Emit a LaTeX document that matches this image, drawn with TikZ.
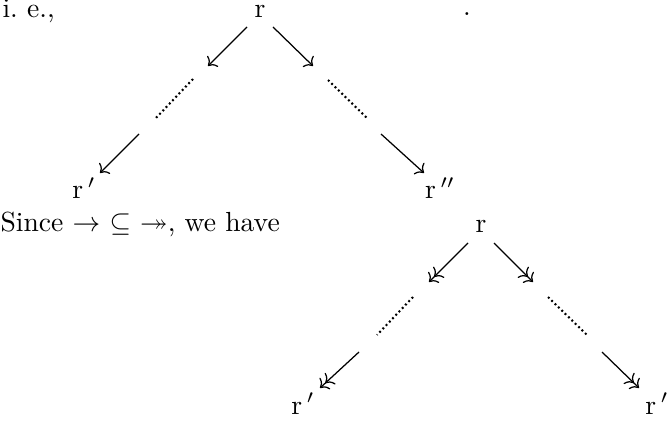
\documentclass[tikz,border=0pt]{standalone}
\usepackage{amssymb}
\usetikzlibrary{arrows.meta}
\begin{document}
\begin{tikzpicture}[x=0.362pt,y=-0.362pt,
  lbl/.style={inner sep=0pt,anchor=base},
  arr/.style={-{To[length=2.6pt,width=5.6pt]},line width=0.45pt},
  darr/.style={-{To[length=2.6pt,width=5.6pt]To[length=2.6pt,width=5.6pt]},line width=0.45pt},
  dots/.style={line width=0.75pt,dash pattern=on 0.7pt off 1.0pt}]
\useasboundingbox (0,0) rectangle (669,422);
% text
\node[lbl,anchor=base west] (ie) at (2,18) {i.\ e.,};
\node[lbl] (dot) at (467,16) {.};
\node[lbl,anchor=base west] (since) at (0,232) {Since $\rightarrow$ $\subseteq$ $\twoheadrightarrow$, we have};
% tree 1
\node[lbl] (r1) at (260,18) {r};
\node[lbl] (r1l) at (84,199) {r\,$'$};
\node[lbl] (r1r) at (440,199) {r\,$''$};
\coordinate (a1s) at (247,27); \coordinate (a1e) at (208,66);
\coordinate (d1s) at (193,79); \coordinate (d1e) at (155,119);
\coordinate (a2s) at (139,134); \coordinate (a2e) at (100,173);
\coordinate (b1s) at (273,27); \coordinate (b1e) at (313,66);
\coordinate (e1s) at (328,80); \coordinate (e1e) at (368,119);
\coordinate (b2s) at (381,134); \coordinate (b2e) at (424,173);
\draw[arr] (a1s) -- (a1e);
\draw[dots] (d1s) -- (d1e);
\draw[arr] (a2s) -- (a2e);
\draw[arr] (b1s) -- (b1e);
\draw[dots] (e1s) -- (e1e);
\draw[arr] (b2s) -- (b2e);
% tree 2
\node[lbl] (r2) at (481,233) {r};
\node[lbl] (r2l) at (303,414) {r\,$'$};
\node[lbl] (r2r) at (657,414) {r\,$'$};
\coordinate (c1s) at (468,243); \coordinate (c1e) at (429,282);
\coordinate (f1s) at (413,297); \coordinate (f1e) at (377,335);
\coordinate (c2s) at (359,352); \coordinate (c2e) at (320,388);
\coordinate (g1s) at (494,243); \coordinate (g1e) at (533,282);
\coordinate (h1s) at (548,297); \coordinate (h1e) at (587,335);
\coordinate (g2s) at (602,352); \coordinate (g2e) at (639,388);
\draw[darr] (c1s) -- (c1e);
\draw[dots] (f1s) -- (f1e);
\draw[darr] (c2s) -- (c2e);
\draw[darr] (g1s) -- (g1e);
\draw[dots] (h1s) -- (h1e);
\draw[darr] (g2s) -- (g2e);
\end{tikzpicture}
\end{document}
